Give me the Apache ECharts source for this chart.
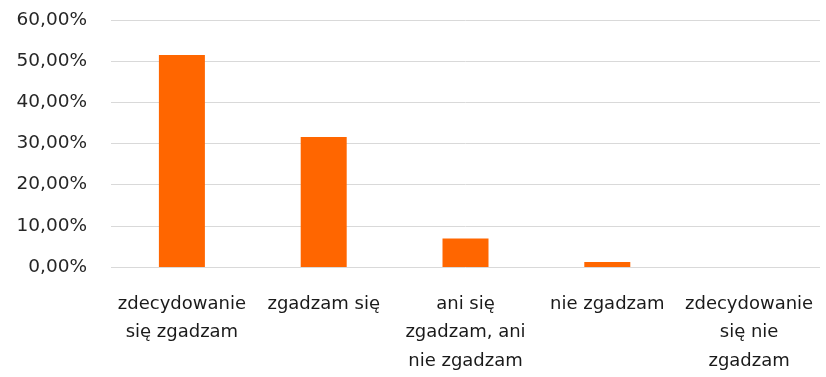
<!DOCTYPE html>
<html>
<head>
<meta charset="utf-8">
<script src="https://cdn.jsdelivr.net/npm/echarts@6/dist/echarts.min.js"></script>
<style>
  html, body { margin: 0; padding: 0; background: #fff; }
  #chart { width: 826px; height: 377px; }
</style>
</head>
<body>
<div id="chart"></div>
<script>
// Answer categories (Polish survey scale)
const categories = [
  'zdecydowanie\nsię zgadzam',
  'zgadzam się',
  'ani się\nzgadzam, ani\nnie zgadzam',
  'nie zgadzam',
  'zdecydowanie\nsię nie\nzgadzam'
];
// Share of responses, in percent
const shares = [51.5, 31.6, 6.9, 1.2, 0];
// Value axis range
const yMin = 0;
const yMax = 60;
const yStep = 10;

const chart = echarts.init(document.getElementById('chart'));
chart.setOption({
  animation: false,
  grid: { left: 111, right: 6, top: 20, bottom: 110, containLabel: false },
  xAxis: {
    type: 'category',
    data: categories,
    axisLine: { show: false },
    axisTick: { show: false },
    axisLabel: {
      interval: 0,
      margin: 23,
      color: '#1a1a1a',
      fontFamily: 'DejaVu Sans',
      fontSize: 18,
      lineHeight: 28.5,
      align: 'center'
    }
  },
  yAxis: {
    type: 'value',
    min: yMin,
    max: yMax,
    interval: yStep,
    axisLine: { show: false },
    axisTick: { show: false },
    splitLine: { lineStyle: { color: '#d9d9d9', width: 1 } },
    axisLabel: {
      margin: 24,
      color: '#262626',
      fontFamily: 'DejaVu Sans',
      fontSize: 18.5,
      formatter: v => v.toFixed(2).replace('.', ',') + '%'
    }
  },
  series: [{
    type: 'bar',
    data: shares,
    barWidth: 46,
    itemStyle: { color: '#ff6600' }
  }]
});
</script>
</body>
</html>
